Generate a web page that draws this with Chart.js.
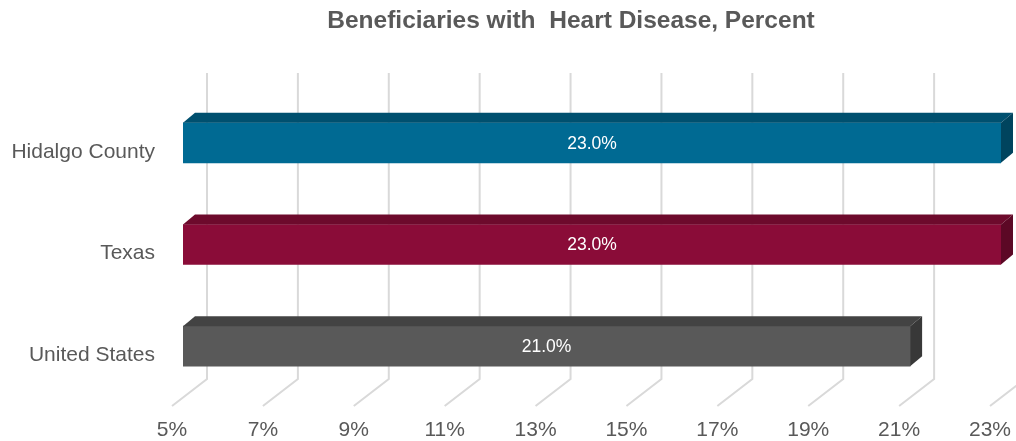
<!DOCTYPE html>
<html>
<head>
<meta charset="utf-8">
<script src="https://cdn.jsdelivr.net/npm/chart.js@4.4.1/dist/chart.umd.min.js"></script>
<style>
html, body { margin: 0; padding: 0; background: #fff; }
</style>
</head>
<body>
<canvas id="heartChart" width="1016" height="441"></canvas>
<script>
const regions = ['Hidalgo County', 'Texas', 'United States'];
const heartDiseasePct = [23.0, 23.0, 21.0];
const xTicks = [5, 7, 9, 11, 13, 15, 17, 19, 21, 23];
const chartTitle = 'Beneficiaries with  Heart Disease, Percent';

// front / top / side shades for each bar
const faceColors = ['#006a93', '#8a0c38', '#595959'];
const topColors = ['#00506f', '#6d0a2c', '#434343'];
const sideColors = ['#00445e', '#5c0825', '#383838'];

const FONT = '"Liberation Sans", Arial, sans-serif';

// fake 3D: back wall grid, floor lines, bar top/side faces, value labels, title
const depth3d = {
  id: 'depth3d',
  beforeDatasetsDraw(chart) {
    const { ctx, chartArea: a, scales: { x } } = chart;
    ctx.save();
    ctx.strokeStyle = '#d9d9d9';
    ctx.lineWidth = 2;
    xTicks.forEach(v => {
      const px = x.getPixelForValue(v);
      ctx.beginPath();
      ctx.moveTo(px + 24, a.top - 19);
      ctx.lineTo(px + 24, a.bottom - 18);
      ctx.lineTo(px - 11, a.bottom + 9);
      ctx.stroke();
    });
    ctx.restore();
  },
  afterDatasetsDraw(chart) {
    const { ctx, chartArea: a } = chart;
    const meta = chart.getDatasetMeta(0);
    const dx = 12, dy = -10;
    ctx.save();
    meta.data.forEach((bar, i) => {
      const p = bar.getProps(['x', 'y', 'base', 'height'], true);
      const x = p.x, y = p.y;
      const base = Math.max(p.base, a.left);
      const top = y - p.height / 2, bot = y + p.height / 2;

      ctx.fillStyle = topColors[i];
      ctx.beginPath();
      ctx.moveTo(base, top);
      ctx.lineTo(base + dx, top + dy);
      ctx.lineTo(x + dx, top + dy);
      ctx.lineTo(x, top);
      ctx.closePath();
      ctx.fill();

      ctx.fillStyle = sideColors[i];
      ctx.beginPath();
      ctx.moveTo(x, top);
      ctx.lineTo(x + dx, top + dy);
      ctx.lineTo(x + dx, bot + dy);
      ctx.lineTo(x, bot);
      ctx.closePath();
      ctx.fill();

      ctx.fillStyle = '#ffffff';
      ctx.font = '17.5px ' + FONT;
      ctx.textAlign = 'center';
      ctx.textBaseline = 'middle';
      ctx.fillText(heartDiseasePct[i].toFixed(1) + '%', (base + x) / 2, y + 1);
    });
    ctx.restore();
  },
  afterDraw(chart) {
    const { ctx } = chart;
    ctx.save();
    ctx.fillStyle = '#595959';
    ctx.font = 'bold 24.5px ' + FONT;
    ctx.textAlign = 'center';
    ctx.textBaseline = 'middle';
    ctx.fillText(chartTitle, 571, 21);
    ctx.restore();
  }
};

new Chart(document.getElementById('heartChart'), {
  type: 'bar',
  data: {
    labels: regions,
    datasets: [{
      data: heartDiseasePct,
      backgroundColor: faceColors,
      barThickness: 40,
      borderWidth: 0
    }]
  },
  options: {
    indexAxis: 'y',
    responsive: false,
    animation: false,
    layout: { padding: { top: 92, right: 15, left: 0, bottom: 0 } },
    plugins: {
      legend: { display: false },
      tooltip: { enabled: false }
    },
    scales: {
      x: {
        min: 5,
        max: 23,
        afterBuildTicks: s => { s.ticks = xTicks.map(v => ({ value: v })); },
        afterFit: s => {
          s.height = 44;
          s.paddingLeft = 0;
          s.paddingRight = 0;
        },
        grid: { display: false, drawTicks: false },
        border: { display: false },
        ticks: {
          color: '#595959',
          font: { family: FONT, size: 21 },
          padding: 21,
          labelOffset: -11,
          maxRotation: 0,
          autoSkip: false,
          callback: v => v + '%'
        }
      },
      y: {
        afterFit: s => { s.width = 183; },
        grid: { display: false, drawTicks: false },
        border: { display: false },
        ticks: {
          color: '#595959',
          font: { family: FONT, size: 21 },
          padding: 28,
          labelOffset: 9
        }
      }
    }
  },
  plugins: [depth3d]
});
</script>
</body>
</html>
